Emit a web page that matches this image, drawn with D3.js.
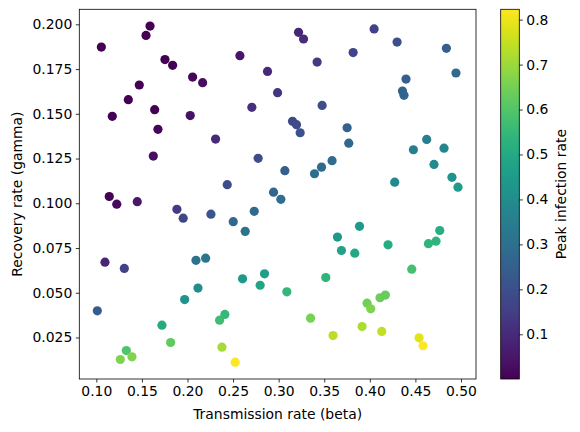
<!DOCTYPE html>
<html>
<head>
<meta charset="utf-8">
<script src="https://cdn.jsdelivr.net/npm/d3@7"></script>
<style>
  body { margin: 0; background: #fff; }
  text { font-family: "DejaVu Sans", sans-serif; fill: #000; }
</style>
</head>
<body>
<div id="chart"></div>
<script>
// SIR parameter sweep: transmission vs recovery, coloured by peak infection
const beta = [
  0.1055, 0.1589, 0.1545, 0.1753, 0.1837, 0.1471, 0.1351, 0.1175, 0.1640, 0.1676,
  0.1625, 0.2056, 0.2166, 0.2030, 0.2575, 0.2878, 0.2988, 0.2706, 0.2308, 0.2775,
  0.3068, 0.2436, 0.2944, 0.3024, 0.3152, 0.3196, 0.3236, 0.3218, 0.3273, 0.3422,
  0.3817, 0.4047, 0.4299, 0.4840, 0.4945, 0.4397, 0.4358, 0.4375, 0.3477, 0.3751,
  0.3769, 0.3586, 0.3470, 0.3393, 0.4624, 0.4478, 0.4814, 0.4704, 0.4273, 0.4901,
  0.4967, 0.1142, 0.1224, 0.1449, 0.1884, 0.1953, 0.2257, 0.2502, 0.2732, 0.2633,
  0.1095, 0.1307, 0.1011, 0.2093, 0.2199, 0.2115, 0.1969, 0.2604, 0.2845, 0.2797,
  0.3090, 0.1720, 0.1815, 0.1329, 0.1263, 0.1391, 0.2352, 0.2410, 0.2378, 0.2523,
  0.3887, 0.3645, 0.3689, 0.3835, 0.4200, 0.4767, 0.4643, 0.4726, 0.3517, 0.4460,
  0.3970, 0.4010, 0.4112, 0.4171, 0.3350, 0.3597, 0.3915, 0.4131, 0.4540, 0.4584
];
const gamma = [
  0.1873, 0.1990, 0.1938, 0.1803, 0.1771, 0.1661, 0.1579, 0.1486, 0.1523, 0.1413,
  0.1264, 0.1705, 0.1674, 0.1490, 0.1825, 0.1737, 0.1618, 0.1536, 0.1359, 0.1251,
  0.1182, 0.1104, 0.1062, 0.1022, 0.1458, 0.1439, 0.1394, 0.1955, 0.1918, 0.1789,
  0.1842, 0.1974, 0.1901, 0.1866, 0.1728, 0.1694, 0.1627, 0.1603, 0.1547, 0.1422,
  0.1336, 0.1238, 0.1202, 0.1165, 0.1357, 0.1299, 0.1308, 0.1217, 0.1118, 0.1145,
  0.1090, 0.1038, 0.0995, 0.1009, 0.0966, 0.0917, 0.0939, 0.0897, 0.0955, 0.0843,
  0.0671, 0.0636, 0.0399, 0.0681, 0.0693, 0.0526, 0.0462, 0.0578, 0.0606, 0.0542,
  0.0505, 0.0319, 0.0222, 0.0177, 0.0127, 0.0142, 0.0347, 0.0379, 0.0196, 0.0112,
  0.0871, 0.0811, 0.0736, 0.0721, 0.0768, 0.0848, 0.0774, 0.0788, 0.0585, 0.0632,
  0.0442, 0.0410, 0.0472, 0.0487, 0.0358, 0.0261, 0.0311, 0.0284, 0.0248, 0.0204
];
const peak = [
  0.0005, 0.001, 0.001, 0.001, 0.001, 0.001, 0.001, 0.0005, 0.003, 0.013,
  0.027, 0.016, 0.028, 0.039, 0.047, 0.092, 0.126, 0.111, 0.099, 0.190,
  0.247, 0.188, 0.271, 0.295, 0.181, 0.190, 0.206, 0.090, 0.101, 0.138,
  0.166, 0.162, 0.197, 0.247, 0.283, 0.247, 0.259, 0.266, 0.195, 0.253,
  0.278, 0.288, 0.287, 0.290, 0.347, 0.351, 0.374, 0.391, 0.388, 0.427,
  0.448, 0.004, 0.019, 0.052, 0.145, 0.176, 0.219, 0.274, 0.283, 0.315,
  0.087, 0.163, 0.238, 0.309, 0.321, 0.405, 0.425, 0.444, 0.458, 0.488,
  0.541, 0.502, 0.621, 0.598, 0.668, 0.665, 0.570, 0.552, 0.712, 0.818,
  0.441, 0.443, 0.479, 0.498, 0.506, 0.515, 0.535, 0.535, 0.535, 0.581,
  0.644, 0.665, 0.637, 0.633, 0.654, 0.737, 0.719, 0.747, 0.787, 0.823
];

const xTicks = [0.10, 0.15, 0.20, 0.25, 0.30, 0.35, 0.40, 0.45, 0.50];
const yTicks = [0.025, 0.050, 0.075, 0.100, 0.125, 0.150, 0.175, 0.200];
const cTicks = [0.1, 0.2, 0.3, 0.4, 0.5, 0.6, 0.7, 0.8];

const W = 580, H = 432;
const ax = { left: 79.3, top: 9.3, right: 476, bottom: 379 };
const cb = { left: 500.7, right: 519.3 };

const svg = d3.select("#chart").append("svg")
    .attr("width", W)
    .attr("height", H);

// matplotlib-style 5% margins around the data
function padded(values) {
    const [lo, hi] = d3.extent(values);
    const m = (hi - lo) * 0.05;
    return [lo - m, hi + m];
}

const x = d3.scaleLinear().domain(padded(beta)).range([ax.left, ax.right]);
const y = d3.scaleLinear().domain(padded(gamma)).range([ax.bottom, ax.top]);
const cExtent = d3.extent(peak);
const color = d3.scaleSequential(d3.interpolateViridis).domain(cExtent);

const pts = beta.map((b, i) => ({ b: b, g: gamma[i], p: peak[i] }));

svg.append("g")
    .selectAll("circle")
    .data(pts)
    .enter().append("circle")
    .attr("cx", d => x(d.b))
    .attr("cy", d => y(d.g))
    .attr("r", 4.6)
    .attr("fill", d => color(d.p));

// Axes
const xAxis = svg.append("g")
    .attr("transform", `translate(0,${ax.bottom})`)
    .call(d3.axisBottom(x).tickValues(xTicks).tickFormat(d3.format(".2f"))
        .tickSize(3.5).tickPadding(3.5).tickSizeOuter(0));

const yAxis = svg.append("g")
    .attr("transform", `translate(${ax.left},0)`)
    .call(d3.axisLeft(y).tickValues(yTicks).tickFormat(d3.format(".3f"))
        .tickSize(3.5).tickPadding(3.5).tickSizeOuter(0));

[xAxis, yAxis].forEach(g => {
    g.select(".domain").remove();
    g.selectAll("line").attr("stroke", "#000").attr("stroke-width", 0.8);
    g.selectAll("text").style("font-size", "13.9px").attr("fill", "#000");
});

svg.append("rect")
    .attr("x", ax.left).attr("y", ax.top)
    .attr("width", ax.right - ax.left)
    .attr("height", ax.bottom - ax.top)
    .attr("fill", "none")
    .attr("stroke", "#000")
    .attr("stroke-width", 0.8);

svg.append("text")
    .attr("x", (ax.left + ax.right) / 2)
    .attr("y", 419)
    .attr("text-anchor", "middle")
    .style("font-size", "13.9px")
    .text("Transmission rate (beta)");

svg.append("text")
    .attr("transform", `translate(21.5,${(ax.top + ax.bottom) / 2}) rotate(-90)`)
    .attr("text-anchor", "middle")
    .style("font-size", "13.9px")
    .text("Recovery rate (gamma)");

// Colorbar
const grad = svg.append("defs").append("linearGradient")
    .attr("id", "viridis")
    .attr("x1", 0).attr("y1", 1).attr("x2", 0).attr("y2", 0);
d3.range(0, 1.0001, 0.02).forEach(t => {
    grad.append("stop")
        .attr("offset", t)
        .attr("stop-color", d3.interpolateViridis(t));
});

const cy = d3.scaleLinear().domain(cExtent).range([ax.bottom, ax.top]);

svg.append("rect")
    .attr("x", cb.left).attr("y", ax.top)
    .attr("width", cb.right - cb.left)
    .attr("height", ax.bottom - ax.top)
    .attr("fill", "url(#viridis)")
    .attr("stroke", "#000")
    .attr("stroke-width", 0.8);

const cAxis = svg.append("g")
    .attr("transform", `translate(${cb.right},0)`)
    .call(d3.axisRight(cy).tickValues(cTicks).tickFormat(d3.format(".1f"))
        .tickSize(3.5).tickPadding(3.5).tickSizeOuter(0));
cAxis.select(".domain").remove();
cAxis.selectAll("line").attr("stroke", "#000").attr("stroke-width", 0.8);
cAxis.selectAll("text").style("font-size", "13.9px").attr("fill", "#000");

svg.append("text")
    .attr("transform", `translate(566,${(ax.top + ax.bottom) / 2}) rotate(-90)`)
    .attr("text-anchor", "middle")
    .style("font-size", "13.9px")
    .text("Peak infection rate");
</script>
</body>
</html>
